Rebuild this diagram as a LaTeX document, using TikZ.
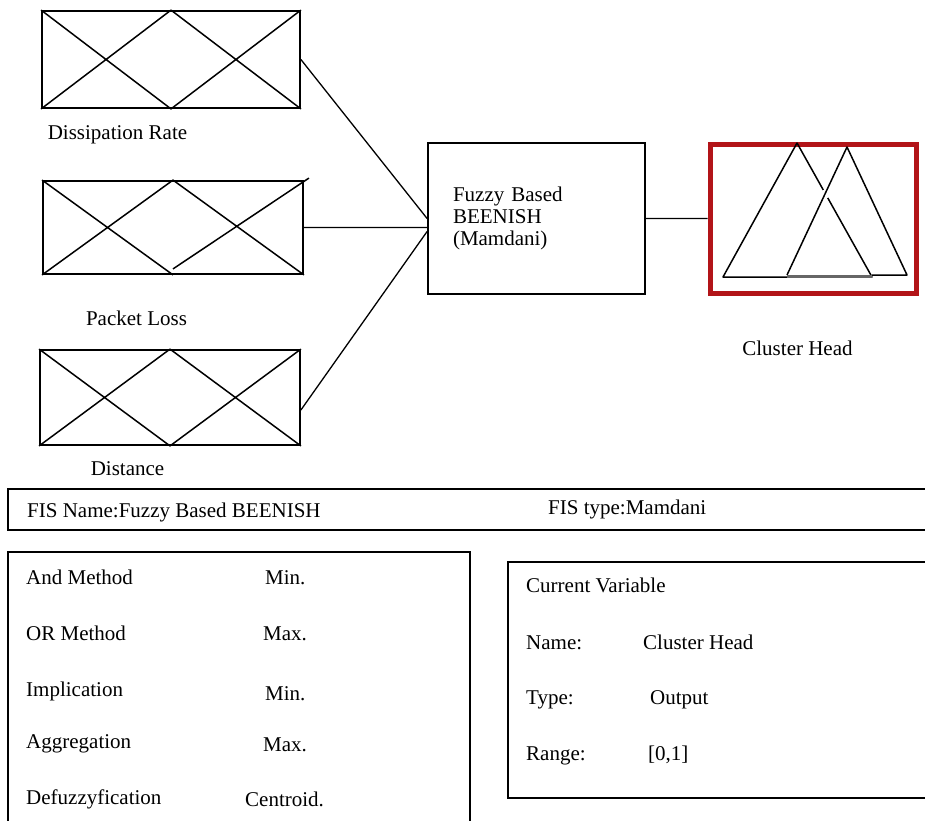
\documentclass[tikz,border=0pt]{standalone}
\usepackage{fontspec}
\setmainfont{Liberation Serif}
\definecolor{chred}{RGB}{178,20,24}
\tikzset{
    inbox/.style={draw,line width=1.8pt,minimum width=260pt,minimum height=95pt,inner sep=0pt},
    xline/.style={line width=1.5pt,line join=round},
    conn/.style={line width=1.3pt},
    lbl/.style={anchor=base,inner sep=0pt},
    txt/.style={anchor=base west,inner sep=0pt},
    tbl/.style={draw,line width=1.8pt,inner sep=0pt}
}
\begin{document}
\begin{tikzpicture}[x=1pt,y=-1pt]
    \fontsize{21}{22}\selectfont
    \useasboundingbox (0,0) rectangle (925,820);
    \clip (0,0) rectangle (925,820);

    \node[inbox, minimum height=97pt, minimum width=258pt] (dr) at (171,59.5) {};
    \node[inbox, minimum height=93pt] (pl) at (173,227.5) {};
    \node[inbox] (dist) at (170,397.5) {};
    \node[lbl] (drl) at (117.5,139) {Dissipation Rate};
    \node[lbl] (pll) at (136.5,325) {Packet Loss};
    \node[lbl] (distl) at (127.5,475) {Distance};

    \foreach \b in {dr,dist}
        \draw[xline] (\b.north west) -- (\b.south) -- (\b.north east)
        (\b.south west) -- (\b.north) -- (\b.south east);
    \draw[xline] (pl.south west) -- (pl.north) -- (pl.south east)
    (pl.north west) -- (pl.south)
    ([yshift=6pt]pl.south) -- ([xshift=5pt,yshift=2pt]pl.north east);

    \node[draw,line width=1.8pt,minimum width=217pt,minimum height=151pt,
        text width=167pt,inner xsep=25pt,align=left] (fz) at (536.5,218.5)
        {Fuzzy Based\\BEENISH\\(Mamdani)};

    \node[draw=chred,line width=5pt,minimum width=206pt,minimum height=149pt] (ch) at (813,218.5) {};
    \node[lbl] (chl) at (797.5,355) {Cluster Head};
    \begin{scope}[shift={(ch.center)},line width=1.5pt,line join=round]
        \draw (10.25,-28.6) -- (-16,-75.5) -- (-90,58.5) -- (59,58.5) -- (14.75,-20.6);
        \draw (-26,56.5) -- (34,-71.5) -- (94,56.5) -- (59,56.5);
        \draw[gray!80!black,line width=3pt] (-26,57.5) -- (59,57.5);
    \end{scope}

    \draw[conn]
    (dr.east) -- (fz.west)
    (pl.east) -- (pl.east -| fz.west)
    ([yshift=-12.5pt]dist.east) -- ([yshift=-13pt]fz.west)
    (fz.east) -- (ch.west);

    \node[tbl,minimum width=932pt,minimum height=41pt] (fis) at (474,509.5) {};
    \node[txt] (fisname) at (27,517) {FIS Name:Fuzzy Based BEENISH};
    \node[txt] (fistype) at (548,514) {FIS type:Mamdani};

    \node[tbl,minimum width=462pt,minimum height=278pt] (ops) at (239,691) {};
    \node[txt] (andm) at (26,584) {And Method};
    \node[txt] (orm) at (26,640) {OR Method};
    \node[txt] (imp) at (26,696) {Implication};
    \node[txt] (agg) at (26,748) {Aggregation};
    \node[txt] (defz) at (26,804) {Defuzzyfication};
    \node[txt] (andv) at (265,584) {Min.};
    \node[txt] (orv) at (263,640) {Max.};
    \node[txt] (impv) at (265,700) {Min.};
    \node[txt] (aggv) at (263,751) {Max.};
    \node[txt] (defzv) at (245,806) {Centroid.};

    \node[tbl,minimum width=432pt,minimum height=236pt] (cur) at (724,680) {};
    \node[txt] (curv) at (526,592) {Current Variable};
    \node[txt] (namek) at (526,649) {Name:};
    \node[txt] (namev) at (643,649) {Cluster Head};
    \node[txt] (typek) at (526,704) {Type:};
    \node[txt] (typev) at (650,704) {Output};
    \node[txt] (rangek) at (526,760) {Range:};
    \node[txt] (rangev) at (648,760) {[0,1]};
\end{tikzpicture}
\end{document}
